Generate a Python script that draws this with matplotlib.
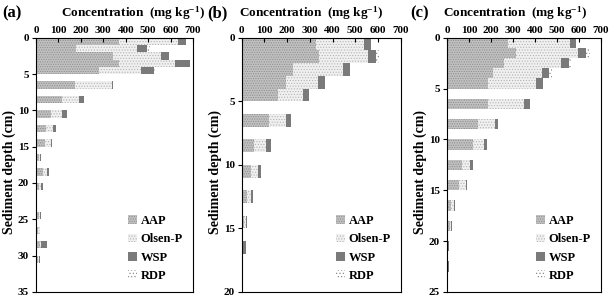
import matplotlib.pyplot as plt
import numpy as np

plt.rcParams['font.family'] = 'Liberation Serif'
plt.rcParams['font.weight'] = 'bold'
plt.rcParams['mathtext.default'] = 'regular'
plt.rcParams['hatch.linewidth'] = 0.5

# depth of the top of each 1-cm slice (cm) and P fractions (mg/kg)
depth_a = [0, 1, 2, 3, 4, 6, 8, 10, 12, 14, 16, 18, 20, 22, 24, 26, 28, 30]
aap_a = [370, 180, 345, 370, 280, 172, 115, 65, 45, 40, 14, 32, 15, 0, 12, 10, 20, 7]
olsen_a = [262, 270, 212, 250, 188, 165, 78, 50, 30, 25, 4, 18, 9, 0, 6, 7, 3, 7]
wsp_a = [35, 45, 38, 67, 57, 8, 20, 22, 14, 8, 6, 7, 6, 5, 5, 3, 25, 4]
rdp_a = [0, 15, 0, 0, 5, 0, 0, 0, 0, 0, 0, 0, 0, 0, 0, 0, 0, 0]

depth_b = [0, 1, 2, 3, 4, 6, 8, 10, 12, 14, 16]
aap_b = [325, 340, 224, 194, 158, 121, 54, 39, 24, 12, 4]
olsen_b = [213, 216, 223, 141, 110, 74, 52, 33, 18, 6, 3]
wsp_b = [30, 37, 31, 32, 30, 23, 21, 14, 9, 6, 10]
rdp_b = [0, 12, 0, 0, 0, 0, 0, 0, 0, 0, 0]

depth_c = [0, 1, 2, 3, 4, 6, 8, 10, 12, 14, 16, 18, 20, 22]
aap_c = [275, 315, 258, 210, 185, 185, 140, 120, 68, 55, 20, 12, 2, 6]
olsen_c = [285, 282, 262, 220, 220, 165, 80, 50, 38, 30, 10, 8, 1, 0]
wsp_c = [28, 35, 35, 33, 33, 28, 10, 12, 12, 4, 5, 4, 5, 4]
rdp_c = [0, 18, 8, 12, 0, 0, 0, 0, 0, 0, 0, 0, 0, 0]

labels = ['AAP', 'Olsen-P', 'WSP', 'RDP']
styles = [
    dict(facecolor='#c0c0c0', edgecolor='#8c8c8c', hatch='.......'),
    dict(facecolor='#f0f0f0', edgecolor='#b4b4b4', hatch='......'),
    dict(facecolor='#7a7a7a', edgecolor='#555555', hatch=None),
    dict(facecolor='#ffffff', edgecolor='#8c8c8c', hatch='.....'),
]

# tag, data, y max, axes box, tag x, title x, ylabel x (axes coords)
panels = [
    ('(a)', depth_a, [aap_a, olsen_a, wsp_a, rdp_a], 35, [0.059, 0.017, 0.258, 0.856], 0.003, 0.218, -0.13),
    ('(b)', depth_b, [aap_b, olsen_b, wsp_b, rdp_b], 20, [0.397, 0.017, 0.261, 0.856], 0.341, 0.511, -0.125),
    ('(c)', depth_c, [aap_c, olsen_c, wsp_c, rdp_c], 25, [0.734, 0.017, 0.253, 0.856], 0.673, 0.846, -0.13),
]

fig = plt.figure(figsize=(6.09, 2.97), dpi=100)

for tag, depth, series, ymax, pos, tagx, titx, labx in panels:
    ax = fig.add_axes(pos)
    left = np.zeros(len(depth))
    for vals, lab, st in zip(series, labels, styles):
        vals = np.array(vals, dtype=float)
        ax.barh(depth, vals, height=1, left=left, align='edge', label=lab,
                linewidth=0, **st)
        left += vals
    ax.set_xlim(0, 700)
    ax.set_ylim(ymax, 0)
    ax.set_xticks(range(0, 701, 100))
    ax.set_yticks(range(0, ymax + 1, 5))
    ax.xaxis.tick_top()
    ax.tick_params(axis='x', direction='in', length=3, labelsize=8, pad=2)
    ax.tick_params(axis='y', direction='out', length=3, labelsize=8, pad=2)
    for lbl in ax.get_xticklabels() + ax.get_yticklabels():
        lbl.set_fontweight('bold')
    for sp in ax.spines.values():
        sp.set_linewidth(0.8)
    ax.set_ylabel('Sediment depth (cm)', fontsize=10, fontweight='bold')
    ax.yaxis.set_label_coords(labx, 0.47)
    fig.text(titx, 0.955, 'Concentration  (mg kg$^{-1}$)', fontsize=9.5,
             fontweight='bold', ha='center', va='center')
    fig.text(tagx, 0.955, tag, fontsize=12, fontweight='bold', ha='left', va='center')
    ax.legend(loc='lower right', frameon=False, handlelength=0.7,
              handleheight=0.7, handletextpad=0.3, labelspacing=0.5,
              borderaxespad=0.4, prop={'weight': 'bold', 'size': 9})

fig.savefig('out.png', dpi=100)
